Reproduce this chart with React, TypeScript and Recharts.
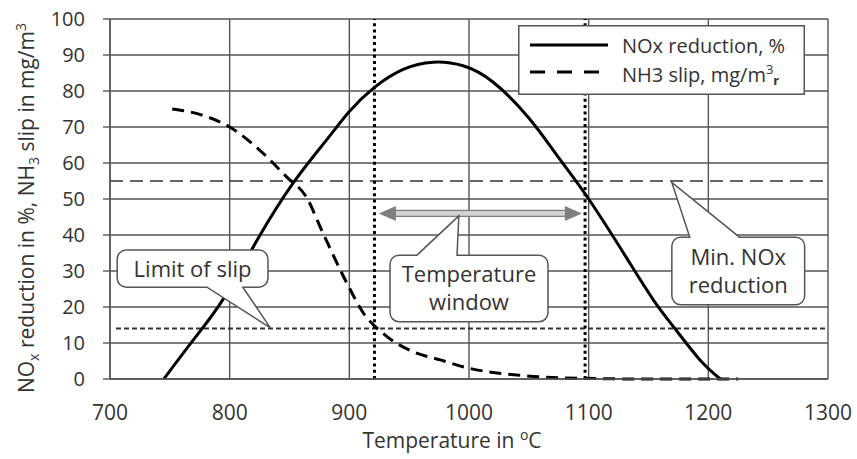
import React from "react"
import {
  LineChart,
  Line,
  XAxis,
  YAxis,
  CartesianGrid,
  ReferenceLine,
  ReferenceArea,
  Legend
} from "recharts"

const FONT = "'Open Sans', sans-serif"
const TEXT = "#333333"
const GRID = "#555555"

// temperature ticks (°C) and value ticks
const xTicks = [700, 800, 900, 1000, 1100, 1200, 1300]
const yTicks = [0, 10, 20, 30, 40, 50, 60, 70, 80, 90, 100]

// NOx reduction in %
const noxReduction = [
  { t: 745, v: 0 },
  { t: 770, v: 11 },
  { t: 795, v: 22.4 },
  { t: 823, v: 38.6 },
  { t: 853, v: 54.4 },
  { t: 880, v: 66 },
  { t: 900, v: 74.3 },
  { t: 921, v: 81 },
  { t: 945, v: 86 },
  { t: 970, v: 88 },
  { t: 995, v: 87 },
  { t: 1020, v: 82.5 },
  { t: 1050, v: 72.5 },
  { t: 1076, v: 61 },
  { t: 1100, v: 50 },
  { t: 1131, v: 34 },
  { t: 1154, v: 22 },
  { t: 1173, v: 13.6 },
  { t: 1193, v: 5.3 },
  { t: 1210, v: 0 }
]

// NH3 slip in mg/m3
const nh3Slip = [
  { t: 752, v: 75 },
  { t: 775, v: 73.5 },
  { t: 800, v: 70 },
  { t: 825, v: 63.6 },
  { t: 848, v: 56 },
  { t: 864, v: 50.6 },
  { t: 878, v: 40.5 },
  { t: 898, v: 26.6 },
  { t: 912, v: 18.2 },
  { t: 928, v: 12.7 },
  { t: 953, v: 7.6 },
  { t: 976, v: 5.3 },
  { t: 1000, v: 3 },
  { t: 1040, v: 1.1 },
  { t: 1093, v: 0.2 },
  { t: 1150, v: 0 },
  { t: 1225, v: 0 }
]

const slipLimit = 14
const minNoxReduction = 55
const windowStart = 921
const windowEnd = 1097
const windowArrow = { from: 924.7, to: 1094.3, level: 46 }

// callout boxes, in chart units
const callouts = [
  {
    lines: ["Limit of slip"],
    x1: 706, x2: 832, y1: 25.5, y2: 35.8,
    side: "bottom", base: [781, 811], tip: [834, 14.2]
  },
  {
    lines: ["Temperature", "window"],
    x1: 934, x2: 1066, y1: 15.9, y2: 34.4,
    side: "top", base: [956.5, 990], tip: [991.5, 45.3]
  },
  {
    lines: ["Min. NOx", "reduction"],
    x1: 1169.5, x2: 1280.5, y1: 20.6, y2: 39.4,
    side: "top", base: [1184.5, 1226], tip: [1169.5, 54.6]
  }
]

function Callout(props: any) {
  const { x, y, width, height, note } = props
  const sx = (v: number) => x + ((v - note.x1) / (note.x2 - note.x1)) * width
  const sy = (v: number) => y + ((note.y2 - v) / (note.y2 - note.y1)) * height
  const r = 9
  const L = x, R = x + width, T = y, B = y + height
  const b1 = sx(note.base[0]), b2 = sx(note.base[1])
  const tx = sx(note.tip[0]), ty = sy(note.tip[1])
  const arc = (ex: number, ey: number) => `A ${r} ${r} 0 0 1 ${ex} ${ey}`
  const d =
    note.side === "top"
      ? `M ${L + r} ${T} L ${b1} ${T} L ${tx} ${ty} L ${b2} ${T} L ${R - r} ${T} ${arc(R, T + r)} L ${R} ${B - r} ${arc(R - r, B)} L ${L + r} ${B} ${arc(L, B - r)} L ${L} ${T + r} ${arc(L + r, T)} Z`
      : `M ${L + r} ${T} L ${R - r} ${T} ${arc(R, T + r)} L ${R} ${B - r} ${arc(R - r, B)} L ${b2} ${B} L ${tx} ${ty} L ${b1} ${B} L ${L + r} ${B} ${arc(L, B - r)} L ${L} ${T + r} ${arc(L + r, T)} Z`
  const cx = x + width / 2
  const cy = y + height / 2
  const n = note.lines.length
  return (
    <g>
      <path d={d} fill="#fff" stroke={GRID} strokeWidth={1.5} />
      {note.lines.map((s: string, i: number) => (
        <text
          key={s}
          x={cx}
          y={cy - (n - 1) * 14 + 8 + i * 28}
          textAnchor="middle"
          fontFamily={FONT}
          fontSize={22}
          fill={TEXT}
        >
          {s}
        </text>
      ))}
    </g>
  )
}

function WindowArrow(props: any) {
  const { x1, y1, x2 } = props
  const head = 17
  const hh = 7.5
  return (
    <g>
      <rect
        x={x1 + head - 1}
        y={y1 - 3}
        width={x2 - x1 - 2 * head + 2}
        height={6}
        fill="#d4d4d4"
        stroke="#7f7f7f"
        strokeWidth={1.3}
      />
      <polygon points={`${x1},${y1} ${x1 + head},${y1 - hh} ${x1 + head},${y1 + hh}`} fill="#7f7f7f" />
      <polygon points={`${x2},${y1} ${x2 - head},${y1 - hh} ${x2 - head},${y1 + hh}`} fill="#7f7f7f" />
    </g>
  )
}

function LegendBox() {
  return (
    <svg width={287} height={70} style={{ display: "block" }}>
      <rect x={0.75} y={0.75} width={285.5} height={68.5} fill="#fff" stroke={GRID} strokeWidth={1.5} />
      <line x1={12} x2={90} y1={20} y2={20} stroke="#000" strokeWidth={3} />
      <line x1={12} x2={90} y1={47} y2={47} stroke="#000" strokeWidth={3} strokeDasharray="15 12" />
      <text x={104} y={28} fontFamily={FONT} fontSize={20} fill={TEXT}>
        NOx reduction, %
      </text>
      <text x={104} y={57} fontFamily={FONT} fontSize={20} fill={TEXT}>
        NH3 slip, mg/m
        <tspan dy={-8} fontSize={13}>3</tspan>
        <tspan dy={11} fontSize={13} fontWeight="bold">r</tspan>
      </text>
    </svg>
  )
}

function XTitle(props: any) {
  const vb = props.viewBox
  return (
    <text
      x={vb.x + vb.width / 2 - 17}
      y={vb.y + 69}
      textAnchor="middle"
      fontFamily={FONT}
      fontSize={21}
      fill={TEXT}
    >
      Temperature in <tspan dy={-8} fontSize={14}>o</tspan>
      <tspan dy={8}>C</tspan>
    </text>
  )
}

function YTitle(props: any) {
  const vb = props.viewBox
  const cx = vb.x - 16
  const cy = vb.y + vb.height / 2 + 9
  return (
    <text
      transform={`translate(${cx},${cy}) rotate(-90)`}
      textAnchor="middle"
      fontFamily={FONT}
      fontSize={21}
      fill={TEXT}
    >
      NO<tspan dy={5} fontSize={14}>x</tspan>
      <tspan dy={-5}> reduction in %, NH</tspan>
      <tspan dy={5} fontSize={14}>3</tspan>
      <tspan dy={-5}> slip in mg/m</tspan>
      <tspan dy={-8} fontSize={14}>3</tspan>
    </text>
  )
}

export default function App() {
  return (
    <div style={{ position: "absolute", left: 0, top: 0, background: "#fff" }}>
      <LineChart
        width={857}
        height={459}
        margin={{ top: 19, right: 29, left: 50, bottom: 40 }}
      >
        <CartesianGrid stroke={GRID} strokeWidth={1.4} />
        <XAxis
          type="number"
          dataKey="t"
          domain={[700, 1300]}
          ticks={xTicks}
          height={40}
          tickLine={false}
          tickSize={0}
          tickMargin={26}
          axisLine={{ stroke: GRID, strokeWidth: 1.4 }}
          tick={{ fill: TEXT, fontSize: 21, fontFamily: FONT }}
          label={(p: any) => <XTitle {...p} />}
        />
        <YAxis
          type="number"
          domain={[0, 100]}
          ticks={yTicks}
          width={60}
          tickSize={7}
          tickMargin={18}
          tickLine={{ stroke: GRID, strokeWidth: 1.4 }}
          axisLine={{ stroke: GRID, strokeWidth: 1.4 }}
          tick={{ fill: TEXT, fontSize: 20, fontFamily: FONT }}
          label={(p: any) => <YTitle {...p} />}
        />
        <ReferenceLine y={minNoxReduction} stroke="#333" strokeWidth={1.5} strokeDasharray="13 7" />
        <ReferenceLine
          segment={[{ x: 705, y: slipLimit }, { x: 1300, y: slipLimit }]}
          stroke="#333"
          strokeWidth={2}
          strokeDasharray="5 3"
        />
        <ReferenceLine x={windowStart} stroke="#000" strokeWidth={3} strokeDasharray="3 3.3" />
        <ReferenceLine x={windowEnd} stroke="#000" strokeWidth={3} strokeDasharray="3 3.3" />
        <Line
          data={noxReduction}
          dataKey="v"
          name="NOx reduction, %"
          type="natural"
          stroke="#000"
          strokeWidth={3}
          dot={false}
          isAnimationActive={false}
        />
        <Line
          data={nh3Slip}
          dataKey="v"
          name="NH3 slip"
          type="monotone"
          stroke="#000"
          strokeWidth={3}
          strokeDasharray="12 7"
          dot={false}
          isAnimationActive={false}
        />
        <ReferenceLine
          segment={[
            { x: windowArrow.from, y: windowArrow.level },
            { x: windowArrow.to, y: windowArrow.level }
          ]}
          shape={(p: any) => <WindowArrow {...p} />}
          zIndex={1500}
        />
        {callouts.map((c) => (
          <ReferenceArea
            key={c.lines[0]}
            x1={c.x1}
            x2={c.x2}
            y1={c.y1}
            y2={c.y2}
            shape={(p: any) => <Callout {...p} note={c} />}
            zIndex={1600}
          />
        ))}
        <Legend
          layout="vertical"
          align="center"
          verticalAlign="middle"
          wrapperStyle={{ left: 518, top: 25, width: 287, height: 70 }}
          content={() => <LegendBox />}
        />
      </LineChart>
    </div>
  )
}
